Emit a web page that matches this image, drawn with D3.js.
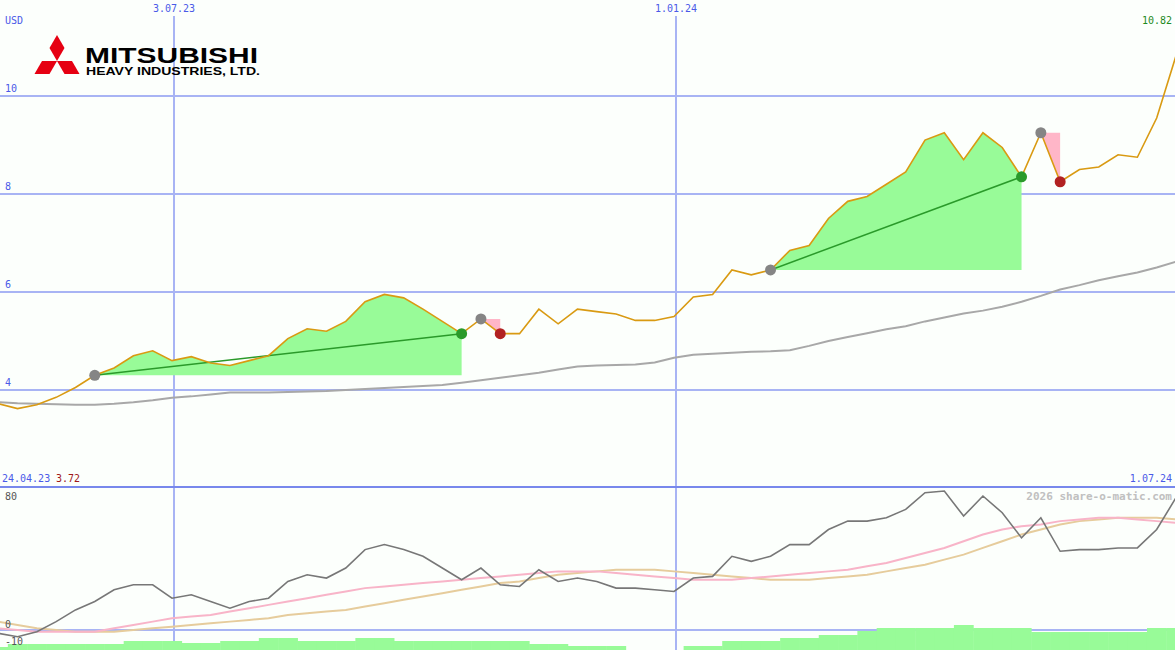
<!DOCTYPE html>
<html><head><meta charset="utf-8">
<script src="https://cdn.jsdelivr.net/npm/d3@7"></script>
<style>body{margin:0;background:#fff}text{font-family:"DejaVu Sans Mono",monospace;font-size:10px}</style>
</head><body><svg id="c" width="1175" height="650"></svg>
<script>
// weekly closes from 24.04.23
var startDate = new Date(2023, 3, 24);
var price = [3.75,3.72,3.62,3.70,3.85,4.05,4.30,4.45,4.70,4.80,4.60,4.68,4.55,4.50,4.60,4.70,5.05,5.25,5.20,5.40,5.80,5.95,5.88,5.65,5.40,5.15,5.45,5.15,5.15,5.65,5.35,5.65,5.60,5.55,5.42,5.42,5.50,5.90,5.95,6.45,6.35,6.45,6.85,6.95,7.50,7.85,7.95,8.20,8.45,9.10,9.25,8.70,9.25,8.95,8.35,9.25,8.25,8.50,8.55,8.80,8.75,9.55,10.82];
var avg = [3.76,3.75,3.73,3.72,3.71,3.70,3.70,3.72,3.75,3.79,3.84,3.87,3.91,3.95,3.95,3.95,3.96,3.97,3.98,4.00,4.02,4.04,4.06,4.08,4.10,4.15,4.20,4.25,4.30,4.35,4.42,4.48,4.50,4.51,4.52,4.56,4.66,4.72,4.74,4.76,4.78,4.79,4.81,4.90,5.00,5.08,5.16,5.24,5.30,5.40,5.48,5.56,5.62,5.70,5.80,5.92,6.05,6.14,6.24,6.32,6.40,6.50,6.62];
var osc = [-1,-2,-4,-1,5,12,17,24,27,27,19,21,17,13,17,19,29,33,31,37,48,51,48,44,37,30,37,27,26,36,29,31,29,25,25,24,23,31,32,44,41,44,51,51,60,65,65,67,72,82,83,68,80,70,55,67,47,48,48,49,49,60,79];
var oscPink = [2,1,0,-1,-1,-1,-1,1,3,5,7,8,9,11,13,15,17,19,21,23,25,26,27,28,29,30,31,32,33,34,35,35,35,34,33,32,31,30,30,30,31,32,33,34,35,36,38,40,43,46,49,53,57,60,62,63,65,66,67,67,66,65,64];
var oscTan = [6,5,3,1,0,-1,-1,-1,0,1,2,3,4,5,6,7,9,10,11,12,14,16,18,20,22,24,26,28,29,31,33,34,35,36,36,36,35,34,33,32,31,30,30,30,31,32,33,35,37,39,42,45,49,53,57,60,63,65,66,67,67,67,66];
var volume = [3,3,6,6,6,6,6,6,9,9,9,7,7,9,9,12,12,9,9,9,12,12,9,9,9,9,9,9,9,6,6,4,4,4,0,0,0,4,4,9,9,9,12,12,15,15,19,22,22,22,22,25,22,22,22,18,18,18,18,18,18,22,22];
var trades = [{from:6,to:25,win:true},{from:26,to:27,win:false},{from:41,to:54,win:true},{from:55,to:56,win:false}];
var priceTicks = [4,6,8,10];
var dateTicks = [new Date(2023,6,3), new Date(2024,0,1)];

var svg = d3.select("#c");
svg.append("rect").attr("width",1175).attr("height",650).attr("fill","#fcfffc");
var fmt = d3.timeFormat("%-d.%m.%y");
var dates = price.map(function(d,i){ return d3.timeDay.offset(startDate, i*7); });
var x = d3.scaleTime().domain(dateTicks).range([172,674]);
var y = d3.scaleLinear().domain([4,10]).range([390,96]);
var y2 = d3.scaleLinear().domain([0,80]).range([630,496]);

// grid
svg.selectAll(".hg").data(priceTicks).enter().append("line")
  .attr("x1",0).attr("x2",1175).attr("y1",y).attr("y2",y).attr("stroke","#a8b4f4").attr("stroke-width",2);
svg.selectAll(".vg").data(dateTicks).enter().append("line")
  .attr("x1",function(d){ return x(d)+2; }).attr("x2",function(d){ return x(d)+2; }).attr("y1",16).attr("y2",650).attr("stroke","#a8b4f4").attr("stroke-width",2);
svg.append("line").attr("x1",0).attr("x2",1175).attr("y1",y2(0)).attr("y2",y2(0)).attr("stroke","#a8b4f4").attr("stroke-width",2);
svg.append("line").attr("x1",0).attr("x2",1175).attr("y1",487).attr("y2",487).attr("stroke","#7888ec").attr("stroke-width",2);

// volume
svg.selectAll(".vol").data(volume).enter().append("rect")
  .attr("x",function(d,i){ return x(dates[i]) - 9.7; }).attr("width",19.8)
  .attr("y",function(d){ return 650-d; }).attr("height",function(d){ return d; })
  .attr("fill","#98fb98");

// trade areas
trades.forEach(function(t){
  var seg = d3.range(t.from, t.to+1);
  var base = price[t.from];
  var area = d3.area().x(function(i){ return x(dates[i]); }).y0(y(base)).y1(function(i){ return y(price[i]); });
  svg.append("path").attr("d", area(seg)).attr("fill", t.win ? "#98fb98" : "#ffb6c8");
  if (t.win) svg.append("line").attr("x1",x(dates[t.from])).attr("y1",y(price[t.from]))
    .attr("x2",x(dates[t.to])).attr("y2",y(price[t.to])).attr("stroke","#2a9a2a").attr("stroke-width",1.5);
});

var line = d3.line().x(function(d,i){ return x(dates[i]); });
svg.append("path").attr("d", line.y(function(d){ return y(d); })(avg)).attr("fill","none").attr("stroke","#a8a8a8").attr("stroke-width",2);
svg.append("path").attr("d", line.y(function(d){ return y(d); })(price)).attr("fill","none").attr("stroke","#d99a12").attr("stroke-width",1.6);

trades.forEach(function(t){
  svg.append("circle").attr("cx",x(dates[t.from])).attr("cy",y(price[t.from])).attr("r",5.5).attr("fill","#858585");
  svg.append("circle").attr("cx",x(dates[t.to])).attr("cy",y(price[t.to])).attr("r",5.5).attr("fill", t.win ? "#2a9a2a" : "#b22222");
});

// oscillator
svg.append("path").attr("d", line.y(function(d){ return y2(d); })(oscTan)).attr("fill","none").attr("stroke","#e6cc9c").attr("stroke-width",2);
svg.append("path").attr("d", line.y(function(d){ return y2(d); })(oscPink)).attr("fill","none").attr("stroke","#f8b4c8").attr("stroke-width",2);
svg.append("path").attr("d", line.y(function(d){ return y2(d); })(osc)).attr("fill","none").attr("stroke","#777").attr("stroke-width",1.6);

// labels
svg.selectAll(".pl").data(priceTicks).enter().append("text").attr("x",5).attr("y",function(d){ return y(d)-4; })
  .attr("fill","#4a5ae8").text(function(d){ return d; });
svg.selectAll(".dl").data(dateTicks).enter().append("text").attr("x",function(d){ return x(d)+2; }).attr("y",12).attr("text-anchor","middle")
  .attr("fill","#4a5ae8").text(fmt);
svg.append("text").attr("x",5).attr("y",24).attr("fill","#4a5ae8").text("USD");
svg.append("text").attr("x",1172).attr("y",24).attr("text-anchor","end").attr("fill","#1f8a1f").text(price[price.length-1].toFixed(2));
svg.append("text").attr("x",2).attr("y",482).attr("fill","#4a5ae8").text(fmt(startDate));
svg.append("text").attr("x",56).attr("y",482).attr("fill","#a01818").text(price[1].toFixed(2));
svg.append("text").attr("x",1172).attr("y",482).attr("text-anchor","end").attr("fill","#4a5ae8").text(fmt(dates[dates.length-1]));
svg.append("text").attr("x",1172).attr("y",500).attr("text-anchor","end").attr("fill","#c0c0c0").style("font-weight","bold").style("font-size","11px").text("2026 share-o-matic.com");
[[80,y2(80)+4],[0,y2(0)-2],[-10,645]].forEach(function(p){
  svg.append("text").attr("x",5).attr("y",p[1]).attr("fill","#555").text(p[0]);
});

// logo
var g = svg.append("g");
[0,120,240].forEach(function(a){
  g.append("path").attr("d","M57,61 L49.5,48 L57,35 L64.5,48 Z").attr("fill","#e60012")
    .attr("transform","rotate("+a+",57,61)");
});
g.append("text").attr("x",85).attr("y",63).style("font-family","Liberation Sans, Arial").style("font-weight","900").style("font-size","22px")
  .attr("textLength",173).attr("lengthAdjust","spacingAndGlyphs").text("MITSUBISHI");
g.append("text").attr("x",86).attr("y",75).style("font-family","Liberation Sans, Arial").style("font-weight","bold").style("font-size","10px")
  .attr("textLength",174).attr("lengthAdjust","spacingAndGlyphs").text("HEAVY INDUSTRIES, LTD.");
</script></body></html>
